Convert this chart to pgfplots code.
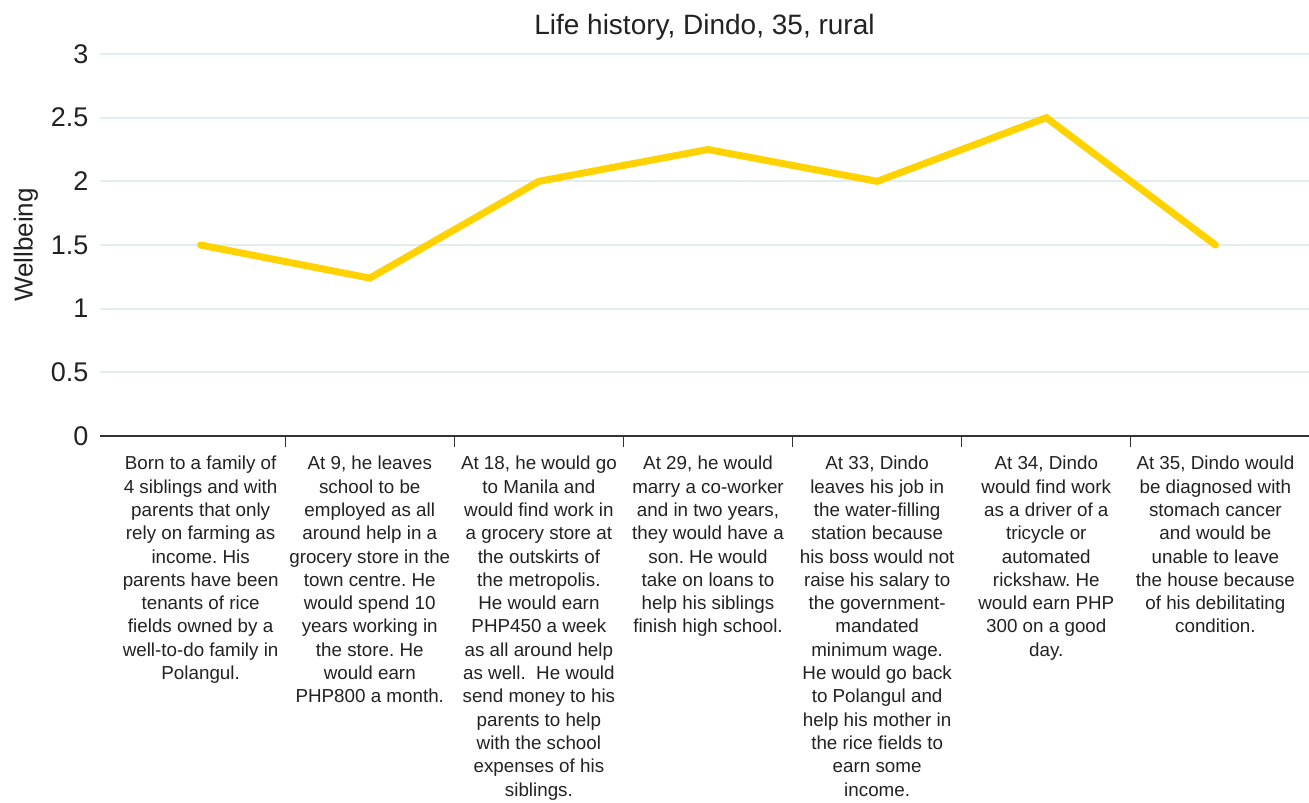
\documentclass[border=0pt]{standalone}
\usepackage{pgfplots}
\pgfplotsset{compat=1.18}
\usepackage{fontspec}
\setmainfont{Liberation Sans}
\frenchspacing
\definecolor{lineyellow}{HTML}{FFD200}
\definecolor{gridc}{HTML}{E3EDEF}
\definecolor{axisc}{HTML}{333333}
\definecolor{textc}{HTML}{222222}
\begin{document}
\begin{tikzpicture}[x=1pt,y=1pt]
\path[use as bounding box] (-100,-367) rectangle (1209,436);
\begin{axis}[
  at={(0,0)}, anchor=south west,
  scale only axis,
  width=1209pt, height=382pt,
  xmin=-0.595, xmax=6.553,
  ymin=0, ymax=3,
  ytick={0,0.5,1,1.5,2,2.5,3},
  yticklabels={0,0.5,1,1.5,2,2.5,3},
  ymajorgrids,
  grid style={gridc, line width=2pt},
  axis x line*=bottom,
  axis y line*=left,
  y axis line style={draw=none},
  x axis line style={axisc, line width=1.5pt},
  ytick style={draw=none},
  xtick={0,1,2,3,4,5,6},
  xtick style={draw=none},
  extra x ticks={0.5,1.5,2.5,3.5,4.5,5.5},
  extra x tick labels={},
  extra x tick style={grid=none, tick align=outside, major tick length=11pt,
     xtick style={draw=axisc, line width=1.2pt}},
  yticklabel style={font=\fontsize{27}{32}\selectfont, text=textc, xshift=-8pt},
  /pgf/number format/assume math mode=true,
  xticklabel style={font=\fontsize{18.8}{23.3}\selectfont, text=textc, align=center, anchor=north, yshift=-20pt, inner sep=0pt},
  xticklabels={
    {Born to a family of\\4 siblings and with\\parents that only\\rely on farming as\\income. His\\parents have been\\tenants of rice\\fields owned by a\\well-to-do family in\\Polangul.},
    {At 9, he leaves\\school to be\\employed as all\\around help in a\\grocery store in the\\town centre. He\\would spend 10\\years working in\\the store. He\\would earn\\PHP800 a month.},
    {At 18, he would go\\to Manila and\\would find work in\\a grocery store at\\the outskirts of\\the metropolis.\\He would earn\\PHP450 a week\\as all around help\\as well.\ \ He would\\send money to his\\parents to help\\with the school\\expenses of his\\siblings.},
    {At 29, he would\\marry a co-worker\\and in two years,\\they would have a\\son. He would\\take on loans to\\help his siblings\\finish high school.},
    {At 33, Dindo\\leaves his job in\\the water-filling\\station because\\his boss would not\\raise his salary to\\the government-\\mandated\\minimum wage.\\He would go back\\to Polangul and\\help his mother in\\the rice fields to\\earn some\\income.},
    {At 34, Dindo\\would find work\\as a driver of a\\tricycle or\\automated\\rickshaw. He\\would earn PHP\\300 on a good\\day.},
    {At 35, Dindo would\\be diagnosed with\\stomach cancer\\and would be\\unable to leave\\the house because\\of his debilitating\\condition.}
  },
  ylabel={Wellbeing},
  ylabel style={font=\fontsize{26}{30}\selectfont, text=textc, at={(axis description cs:-0.0612,0.5)}, anchor=center},
  title={Life history, Dindo, 35, rural},
  title style={font=\fontsize{28}{32}\selectfont, text=textc, yshift=4pt},
  clip=false,
]
\addplot[lineyellow, line width=7pt, line cap=round, line join=miter] coordinates {
  (0,1.5) (1,1.24) (2,2.0) (3,2.25) (4,2.0) (5,2.5) (6,1.5)
};
\end{axis}
\end{tikzpicture}
\end{document}
